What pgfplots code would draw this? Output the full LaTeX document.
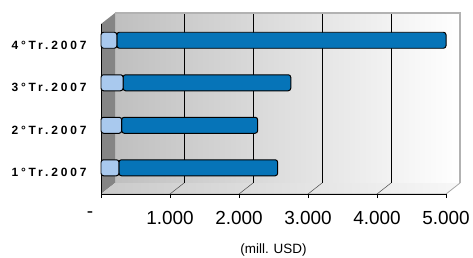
\documentclass[border=0pt]{standalone}
\usepackage{pgfplots}
\pgfplotsset{compat=1.18}
\usepackage{fontspec}
\setmainfont{Liberation Sans}
\definecolor{lightbar}{HTML}{A9C9EE}
\definecolor{darkbar}{HTML}{0674B8}
\definecolor{wallgray}{HTML}{858585}
\begin{document}
\begin{tikzpicture}[x=1bp,y=1bp]
% 3D walls behind the axis (axis box: 345bp x 170bp at origin)
\shade[left color=gray!50, right color=white] (14,11) rectangle (359,181);
\fill[wallgray] (0,0) -- (0,170) -- (14,181) -- (14,11) -- cycle;
\shade[left color=gray!42, right color=gray!6] (0,0) -- (345,0) -- (359,11) -- (14,11) -- cycle;
\draw[gray!70, line width=0.8pt] (0,0) -- (345,0) -- (359,11);
\foreach \k in {1,2,3,4} {
  \draw[black, line width=0.6pt] (14+69*\k,11) -- (14+69*\k,181);
  \draw[black!70, line width=0.5pt] (69*\k,0) -- (14+69*\k,11);
}
\draw[gray!60, line width=1.5pt] (14,181) -- (359,181) -- (359,11);
\begin{axis}[
  at={(0,0)}, anchor=south west,
  scale only axis,
  width=345bp, height=170bp,
  xmin=0, xmax=5000, ymin=0.5, ymax=4.5,
  xbar stacked, bar width=16bp,
  axis line style={black},
  axis x line*=bottom, axis y line*=left,
  xtick={0,1000,2000,3000,4000,5000},
  xticklabels={-\kern22bp,1.000,2.000,3.000,4.000,5.000},
  xticklabel style={font=\fontsize{19}{21}\selectfont, yshift=-10bp},
  x tick label style={/pgf/number format/assume math mode=true},
  ytick={1,2,3,4},
  yticklabels={1°Tr.2007,2°Tr.2007,3°Tr.2007,4°Tr.2007},
  yticklabel style={font=\fontsize{12}{14}\selectfont\bfseries\addfontfeature{LetterSpace=24}, xshift=-7bp},
  major y tick style={draw=none},
  extra y ticks={0.5,1.5,2.5,3.5,4.5},
  extra y tick labels={},
  extra y tick style={major tick length=4bp, tick align=outside, tick style={black}},
  major tick length=4bp, tick align=outside,
  xtick style={black},
  xlabel={(mill. USD)},
  xlabel style={font=\fontsize{13.5}{15}\selectfont, yshift=-12bp},
  clip=false,
]
\addplot[fill=lightbar, draw=black, line width=1pt, rounded corners=2.5bp, bar shift=5bp] coordinates {(260,1) (300,2) (320,3) (230,4)};
\addplot[fill=darkbar, draw=black, line width=1pt, rounded corners=2.5bp, bar shift=5bp] coordinates {(2300,1) (1970,2) (2430,3) (4770,4)};
\end{axis}
\pgfresetboundingbox
\path (-101,-63) rectangle (372,194);
\end{tikzpicture}
\end{document}
